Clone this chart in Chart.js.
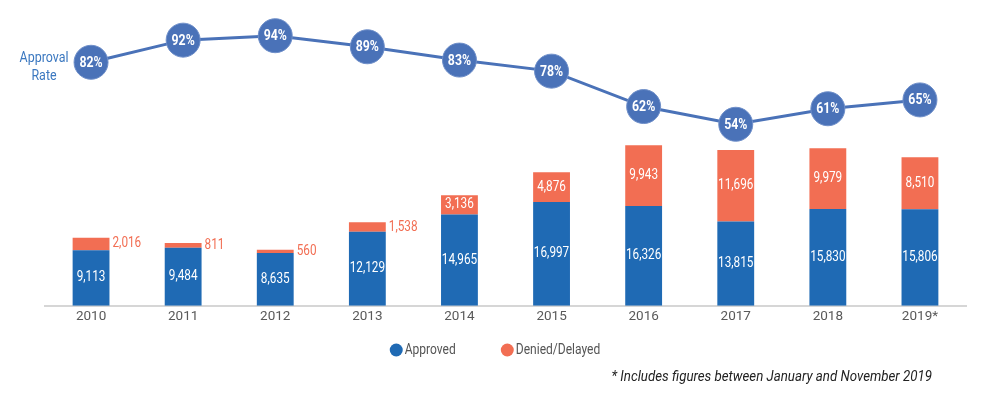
<!DOCTYPE html>
<html>
<head>
<meta charset="utf-8">
<script src="https://cdn.jsdelivr.net/npm/chart.js@4.4.1/dist/chart.umd.min.js"></script>
<style>
  html, body { margin: 0; padding: 0; background: #fff; }
  #wrap { width: 993px; height: 399px; position: relative; }
</style>
</head>
<body>
<div id="wrap"><canvas id="chart"></canvas></div>
<script>
// Data
const years = ['2010', '2011', '2012', '2013', '2014', '2015', '2016', '2017', '2018', '2019*'];
const approved = [9113, 9484, 8635, 12129, 14965, 16997, 16326, 13815, 15830, 15806];
const denied = [2016, 811, 560, 1538, 3136, 4876, 9943, 11696, 9979, 8510];
const approvalRate = [82, 92, 94, 89, 83, 78, 62, 54, 61, 65];

const BLUE = '#1f6ab4';
const ORANGE = '#f26e53';
const LINE = '#4a72b8';
const FONT = 'Roboto, "Noto Sans", sans-serif';
const SQ = 0.86; // squeeze factor, the original uses a condensed face

const fmt = (v) => v.toLocaleString('en-US');

// draw text squeezed horizontally to mimic a condensed face
function squeezed(ctx, text, x, y, sx) {
  ctx.save();
  ctx.translate(x, y);
  ctx.scale(sx, 1);
  ctx.fillText(text, 0, 0);
  ctx.restore();
}

const labelsPlugin = {
  id: 'labels',
  afterDatasetsDraw(chart) {
    const ctx = chart.ctx;
    ctx.save();
    ctx.textBaseline = 'middle';

    // bar values
    ctx.font = '14px ' + FONT;
    chart.getDatasetMeta(0).data.forEach((bar, i) => {
      ctx.fillStyle = '#ffffff';
      ctx.textAlign = 'center';
      squeezed(ctx, fmt(approved[i]), bar.x, (bar.y + bar.base) / 2, 0.84);
    });
    chart.getDatasetMeta(1).data.forEach((bar, i) => {
      const h = bar.base - bar.y;
      if (h > 15) {
        ctx.fillStyle = '#ffffff';
        ctx.textAlign = 'center';
        squeezed(ctx, fmt(denied[i]), bar.x, (bar.y + bar.base) / 2, 0.84);
      } else {
        ctx.fillStyle = ORANGE;
        ctx.textAlign = 'left';
        squeezed(ctx, fmt(denied[i]), bar.x + bar.width / 2 + 3, (bar.y + bar.base) / 2, 0.84);
      }
    });

    // rate labels inside the circles
    ctx.font = 'bold 14px ' + FONT;
    ctx.fillStyle = '#ffffff';
    ctx.textAlign = 'center';
    chart.getDatasetMeta(2).data.forEach((pt, i) => {
      squeezed(ctx, approvalRate[i] + '%', pt.x, pt.y + 1, 0.88);
    });

    // side label for the line
    ctx.font = '14px ' + FONT;
    ctx.fillStyle = '#3b78c0';
    squeezed(ctx, 'Approval', 44, 58, 0.89);
    squeezed(ctx, 'Rate', 44, 76, 0.89);

    // legend
    ctx.font = '14px ' + FONT;
    const items = chart.data.datasets.slice(0, 2);
    const r = 6.5, gap = 2, spacing = 45;
    const widths = items.map((d) => 2 * r + gap + ctx.measureText(d.label).width * SQ);
    const total = widths.reduce((a, b) => a + b, 0) + spacing * (items.length - 1);
    let x = 495 - total / 2;
    items.forEach((d, i) => {
      ctx.fillStyle = d.backgroundColor;
      ctx.beginPath();
      ctx.arc(x + r, 350, r, 0, Math.PI * 2);
      ctx.fill();
      ctx.fillStyle = '#555555';
      ctx.textAlign = 'left';
      squeezed(ctx, d.label, x + 2 * r + gap, 350, SQ);
      x += widths[i] + spacing;
    });

    // footnote
    ctx.font = 'italic 14px ' + FONT;
    ctx.fillStyle = '#222222';
    ctx.textAlign = 'right';
    squeezed(ctx, '* Includes figures between January and November 2019', 932, 377, 0.95);
    ctx.restore();
  },
};

new Chart(document.getElementById('chart'), {
  data: {
    labels: years,
    datasets: [
      {
        type: 'bar',
        label: 'Approved',
        data: approved,
        backgroundColor: BLUE,
        stack: 's',
        yAxisID: 'y',
        barPercentage: 0.4,
        categoryPercentage: 1,
        order: 2,
      },
      {
        type: 'bar',
        label: 'Denied/Delayed',
        data: denied,
        backgroundColor: ORANGE,
        stack: 's',
        yAxisID: 'y',
        barPercentage: 0.4,
        categoryPercentage: 1,
        order: 2,
      },
      {
        type: 'line',
        label: 'Approval Rate',
        data: approvalRate,
        yAxisID: 'y1',
        borderColor: LINE,
        backgroundColor: LINE,
        borderWidth: 3,
        pointRadius: 17,
        pointHoverRadius: 17,
        pointBorderWidth: 1,
        pointBorderColor: '#6f8fc9',
        tension: 0,
        order: 1,
      },
    ],
  },
  options: {
    responsive: true,
    maintainAspectRatio: false,
    animation: false,
    layout: { padding: { top: 18, left: 45, right: 27, bottom: 71 } },
    plugins: {
      legend: { display: false },
      tooltip: { enabled: false },
    },
    scales: {
      x: {
        stacked: true,
        grid: { display: false, drawTicks: false },
        border: { color: '#d6d6d6', width: 2 },
        ticks: { color: '#595959', font: { family: FONT, size: 13.5 }, padding: 3 },
      },
      y: {
        stacked: true,
        display: false,
        min: 0,
        max: 47120,
      },
      y1: {
        display: false,
        min: -28,
        max: 102,
      },
    },
  },
  plugins: [labelsPlugin],
});
</script>
</body>
</html>
